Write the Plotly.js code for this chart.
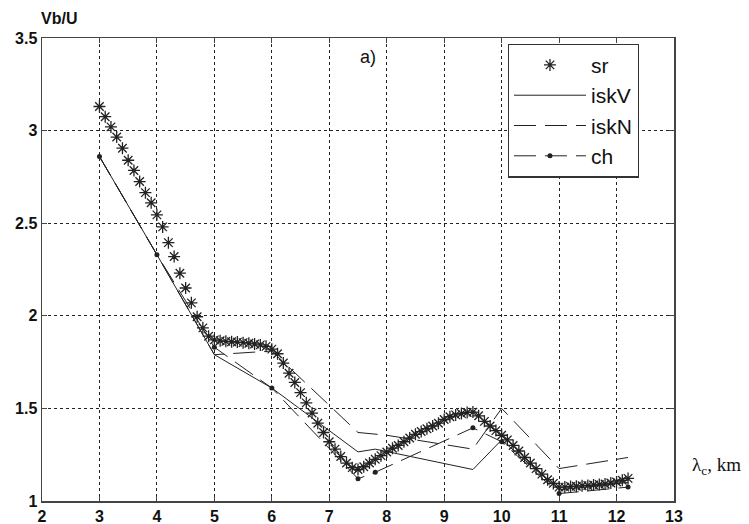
<!DOCTYPE html>
<html>
<head>
<meta charset="utf-8">
<script src="https://cdn.plot.ly/plotly-3.0.1.min.js"></script>
<style>html,body{margin:0;padding:0;background:#fff;}#chart{width:749px;height:524px;}</style>
</head>
<body>
<div id="chart"></div>
<script>
// sr series (asterisks)
const srX = [3.0,3.1,3.2,3.3,3.4,3.5,3.6,3.7,3.8,3.9,4.0,4.1,4.2,4.3,4.4,4.5,4.6,4.7,4.8,4.9,
  5.0,5.1,5.2,5.3,5.4,5.5,5.6,5.7,5.8,5.9,6.0,6.1,6.2,6.3,6.4,6.5,6.6,6.7,6.8,6.9,
  7.0,7.1,7.2,7.3,7.4,7.5,7.6,7.7,7.8,7.9,8.0,8.1,8.2,8.3,8.4,8.5,8.6,8.7,8.8,8.9,
  9.0,9.1,9.2,9.3,9.4,9.5,9.6,9.7,9.8,9.9,10.0,10.1,10.2,10.3,10.4,10.5,10.6,10.7,10.8,10.9,
  11.0,11.1,11.2,11.3,11.4,11.5,11.6,11.7,11.8,11.9,12.0,12.1,12.2];
const srY = [3.13,3.075,3.02,2.965,2.905,2.84,2.785,2.725,2.665,2.61,2.545,2.48,2.395,2.32,2.23,2.15,2.07,1.995,1.935,1.89,
  1.87,1.865,1.862,1.86,1.858,1.855,1.852,1.848,1.843,1.835,1.82,1.795,1.745,1.69,1.64,1.585,1.53,1.475,1.42,1.37,
  1.32,1.28,1.24,1.205,1.18,1.17,1.185,1.205,1.225,1.245,1.265,1.285,1.30,1.32,1.34,1.36,1.375,1.39,1.405,1.42,
  1.44,1.455,1.465,1.472,1.478,1.48,1.46,1.43,1.405,1.38,1.355,1.33,1.30,1.27,1.235,1.205,1.175,1.145,1.115,1.095,
  1.075,1.075,1.078,1.08,1.082,1.084,1.086,1.089,1.092,1.097,1.103,1.112,1.122];

// iskV series (solid)
const iskVX = [3, 4, 5, 6, 7.5, 7.8, 9.5, 10, 11, 12.2];
const iskVY = [2.86, 2.33, 1.79, 1.61, 1.265, 1.28, 1.17, 1.33, 1.06, 1.10];

// iskN series (dashed)
const iskNX = [3, 4, 5, 6, 7.5, 8, 9.5, 10, 11, 12.2];
const iskNY = [2.86, 2.33, 1.79, 1.81, 1.37, 1.355, 1.28, 1.50, 1.175, 1.235];

// ch series (dashed with dots)
const chX = [3, 4, 5, 6, 7.5, 7.8, 9.5, 10, 11, 12.2];
const chY = [2.86, 2.33, 1.83, 1.61, 1.12, 1.155, 1.395, 1.32, 1.04, 1.075];

const ink = '#222';
const traces = [
  {x: srX, y: srY, name: 'sr', mode: 'markers', type: 'scatter',
   marker: {symbol: 'asterisk-open', size: 10, color: ink, line: {color: ink, width: 1.3}}},
  {x: iskVX, y: iskVY, name: 'iskV', mode: 'lines', type: 'scatter',
   line: {color: ink, width: 1}},
  {x: iskNX, y: iskNY, name: 'iskN', mode: 'lines', type: 'scatter',
   line: {color: ink, width: 1, dash: '22px,9px'}},
  {x: chX, y: chY, name: 'ch', mode: 'lines+markers', type: 'scatter',
   line: {color: ink, width: 1, dash: '22px,9px'},
   marker: {symbol: 'circle', size: 5, color: ink}}
];

const tickFont = {family: 'Liberation Sans, Arial, sans-serif', size: 16, color: '#111', weight: 'bold'};
const layout = {
  width: 749, height: 524,
  margin: {l: 42, r: 75, t: 38, b: 23, pad: 0},
  paper_bgcolor: '#fff', plot_bgcolor: '#fff',
  showlegend: true,
  xaxis: {range: [2, 13], dtick: 1, tick0: 2, showgrid: true, gridcolor: '#222', gridwidth: 1,
    griddash: '3px,3px', zeroline: false, showline: true, linecolor: '#444', linewidth: 1.5,
    mirror: 'ticks', ticks: 'inside', ticklen: 5, tickcolor: '#444', tickfont: tickFont},
  yaxis: {range: [1, 3.5], dtick: 0.5, tick0: 1, showgrid: true, gridcolor: '#222', gridwidth: 1,
    griddash: '3px,3px', zeroline: false, showline: true, linecolor: '#444', linewidth: 1.5,
    mirror: 'ticks', ticks: 'inside', ticklen: 5, tickcolor: '#444', tickfont: tickFont},
  legend: {x: 0.737, y: 0.988, xanchor: 'left', yanchor: 'top', bgcolor: '#fff',
    bordercolor: '#333', borderwidth: 1.2,
    font: {family: 'Liberation Sans, Arial, sans-serif', size: 21, color: '#111'},
    tracegroupgap: 0, itemwidth: 72},
  annotations: [
    {text: 'Vb/U', xref: 'paper', yref: 'paper', x: 0.0, y: 1.0, xshift: -3, yshift: 20,
     xanchor: 'left', yanchor: 'middle', showarrow: false,
     font: {family: 'Liberation Sans, Arial, sans-serif', size: 16, color: '#111', weight: 'bold'}},
    {text: 'a)', xref: 'paper', yref: 'paper', x: 0.5, y: 0.96, xanchor: 'left', yanchor: 'middle',
     showarrow: false, font: {family: 'Liberation Sans, Arial, sans-serif', size: 18, color: '#111'}},
    {text: 'λ<sub>c</sub>, km', xref: 'paper', yref: 'paper', x: 1.0, y: 0.075, xshift: 16,
     xanchor: 'left', yanchor: 'middle', showarrow: false,
     font: {family: 'Liberation Serif, Times New Roman, serif', size: 19, color: '#111'}}
  ]
};
Plotly.newPlot('chart', traces, layout, {staticPlot: true});
</script>
</body>
</html>
